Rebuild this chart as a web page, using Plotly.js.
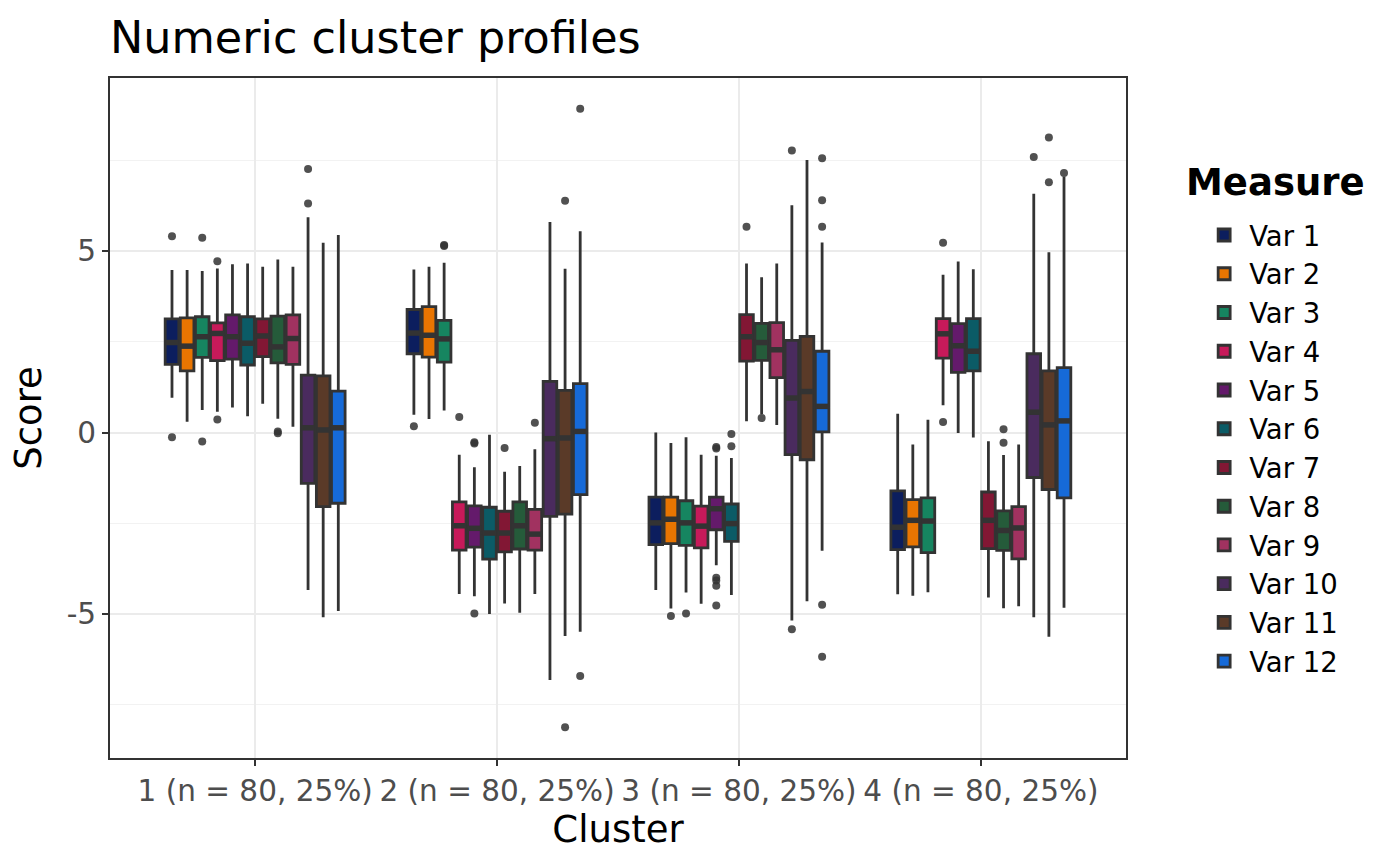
<!DOCTYPE html>
<html>
<head>
<meta charset="utf-8">
<script src="https://cdn.plot.ly/plotly-3.0.1.min.js"></script>
<style>
  html, body { margin: 0; padding: 0; background: #fff; }
  #chart { width: 1400px; height: 866px; }
</style>
</head>
<body>
<div id="chart"></div>
<script>
// clusters on x, one box per measure inside each cluster
const clusters = ['1 (n = 80, 25%)', '2 (n = 80, 25%)', '3 (n = 80, 25%)', '4 (n = 80, 25%)'];
const measures = ['Var 1', 'Var 2', 'Var 3', 'Var 4', 'Var 5', 'Var 6',
                  'Var 7', 'Var 8', 'Var 9', 'Var 10', 'Var 11', 'Var 12'];
const colors = ['#0c1e5e', '#e97501', '#168560', '#c71a5a', '#641a6b', '#0b5b66',
                '#821734', '#255b3a', '#a13260', '#4a2b5e', '#5a3a28', '#166ad8'];

// one row per measure, one value per cluster
const lower = [
  [0.96, 0.49, -4.34, -4.46],
  [0.30, 0.37, -4.85, -4.50],
  [0.62, 0.61, -4.41, -4.40],
  [0.57, -4.45, -4.72, 0.75],
  [0.69, -4.51, -3.66, -0.01],
  [0.45, -5.00, -4.48, -0.14],
  [0.79, -4.71, 0.31, -4.55],
  [0.38, -4.97, 0.50, -4.84],
  [0.16, -4.45, 0.21, -4.79],
  [-4.34, -6.82, -5.18, -5.09],
  [-5.09, -5.61, -4.65, -5.63],
  [-4.92, -5.49, -3.26, -4.83],
];
const q1 = [
  [1.88, 2.17, -3.09, -3.23],
  [1.70, 2.08, -3.06, -3.15],
  [2.07, 1.94, -3.11, -3.31],
  [1.98, -3.24, -3.18, 2.05],
  [2.02, -3.16, -2.68, 1.66],
  [1.86, -3.49, -3.00, 1.70],
  [2.09, -3.29, 1.97, -3.20],
  [1.92, -3.21, 1.99, -3.25],
  [1.88, -3.24, 1.51, -3.48],
  [-1.40, -2.31, -0.61, -1.24],
  [-2.04, -2.25, -0.75, -1.57],
  [-1.95, -1.71, 0.02, -1.80],
];
const median = [
  [2.48, 2.74, -2.49, -2.61],
  [2.38, 2.68, -2.39, -2.42],
  [2.64, 2.58, -2.49, -2.44],
  [2.73, -2.57, -2.58, 2.72],
  [2.64, -2.64, -2.10, 2.39],
  [2.46, -2.77, -2.51, 2.24],
  [2.66, -2.77, 2.64, -2.42],
  [2.36, -2.57, 2.48, -2.70],
  [2.59, -2.80, 2.28, -2.63],
  [0.13, -0.17, 0.95, 0.56],
  [0.07, -0.15, 1.13, 0.21],
  [0.13, 0.03, 0.72, 0.32],
];
const q3 = [
  [3.13, 3.39, -1.78, -1.61],
  [3.16, 3.47, -1.78, -1.85],
  [3.19, 3.09, -1.88, -1.80],
  [3.02, -1.91, -2.03, 3.14],
  [3.24, -2.02, -1.78, 3.00],
  [3.19, -2.06, -1.97, 3.14],
  [3.13, -2.17, 3.25, -1.64],
  [3.21, -1.91, 3.01, -2.16],
  [3.24, -2.12, 3.03, -2.04],
  [1.58, 1.41, 2.54, 2.17],
  [1.56, 1.16, 2.65, 1.70],
  [1.14, 1.35, 2.24, 1.79],
];
const upper = [
  [4.48, 4.49, 0.00, 0.52],
  [4.48, 4.57, -0.29, -0.33],
  [4.45, 4.68, -0.13, 0.35],
  [4.52, -0.61, -0.61, 4.35],
  [4.64, -0.96, -0.64, 4.71],
  [4.66, -0.06, -0.70, 4.50],
  [4.57, -1.08, 4.66, -0.24],
  [4.77, -0.92, 4.28, -0.62],
  [4.57, -0.46, 4.66, -0.33],
  [5.93, 5.80, 6.26, 6.58],
  [5.23, 4.51, 7.51, 4.97],
  [5.44, 5.55, 5.24, 7.05],
];
const outliers = [
  [[5.41, -0.13], [0.17], [], []],
  [[], [], [-5.06], []],
  [[5.37, -0.25], [5.14, 5.17], [-4.99], []],
  [[4.72, 0.36], [0.43], [], [5.23, 0.29]],
  [[], [-0.27, -0.30, -4.99], [-0.40, -0.44, -4.00, -4.08, -4.22, -4.77], []],
  [[], [], [-0.04, -0.38], []],
  [[], [-0.43], [5.67], []],
  [[-0.02, 0.03], [], [0.40], [0.09, -0.28]],
  [[], [0.27], [], []],
  [[7.26, 6.31], [], [7.77, -5.42], [7.59]],
  [[], [6.39, -8.12], [], [8.13, 6.90]],
  [[], [8.92, -6.71], [7.56, 6.40, 5.67, -4.75, -6.18], [7.15]],
];

const yTickVals = [-5, 0, 5];
const yTickText = ['-5', '0', '5'];

// dodge like ggplot: 0.75 of a category shared by all measures, 10% padding
const dodge = 0.75;
const slot = dodge / measures.length;
const box_w = slot * 0.9;
const ink = '#333333';

function box_x(c, m) {
    return (c + 1) + (m - (measures.length - 1) / 2) * slot;
}

let box_traces = [];
let median_traces = [];
let point_traces = [];

measures.forEach((name, m) => {
    let xs = clusters.map((_, c) => box_x(c, m));

    box_traces.push({
        type: 'box',
        name: name,
        x: xs,
        q1: q1[m],
        median: median[m],
        q3: q3[m],
        lowerfence: lower[m],
        upperfence: upper[m],
        width: box_w,
        whiskerwidth: 0,
        boxpoints: false,
        fillcolor: colors[m],
        line: {color: ink, width: 2.8},
        hoverinfo: 'skip',
    });

    // thicker median bar, like ggplot's fatten = 2
    let mx = [], my = [];
    xs.forEach((x, c) => {
        mx.push(x - box_w / 2, x + box_w / 2, null);
        my.push(median[m][c], median[m][c], null);
    });
    median_traces.push({
        type: 'scatter', mode: 'lines',
        x: mx, y: my,
        line: {color: ink, width: 5.5},
        showlegend: false, hoverinfo: 'skip',
    });

    let px = [], py = [];
    outliers[m].forEach((vals, c) => {
        vals.forEach((v) => { px.push(xs[c]); py.push(v); });
    });
    point_traces.push({
        type: 'scatter', mode: 'markers',
        x: px, y: py,
        marker: {color: ink, size: 8, opacity: 0.85},
        showlegend: false, hoverinfo: 'skip',
    });
});

const font_family = 'DejaVu Sans, sans-serif';

let layout = {
    width: 1400,
    height: 866,
    margin: {l: 110, r: 274, t: 78, b: 108},
    paper_bgcolor: '#ffffff',
    plot_bgcolor: '#ffffff',
    font: {family: font_family, color: '#000000', size: 29},
    showlegend: true,
    boxmode: 'overlay',
    title: {
        text: 'Numeric cluster profiles',
        font: {size: 44.5, color: '#000000'},
        x: 0, xref: 'paper', xanchor: 'left',
        y: 0.957, yref: 'container', yanchor: 'middle',
    },
    xaxis: {
        range: [0.4, 4.6],
        tickmode: 'array',
        tickvals: clusters.map((_, c) => c + 1),
        ticktext: clusters,
        tickfont: {size: 29.5, color: '#4d4d4d'},
        ticks: 'outside', ticklen: 6, tickwidth: 2, tickcolor: ink,
        showgrid: true, gridcolor: '#ebebeb', gridwidth: 2,
        zeroline: false,
        showline: true, mirror: true, linecolor: ink, linewidth: 2,
        title: {text: 'Cluster', font: {size: 37, color: '#000000'}, standoff: 2},
    },
    yaxis: {
        range: [-8.97, 9.77],
        tickmode: 'array',
        tickvals: yTickVals,
        ticktext: yTickText,
        tickfont: {size: 29.5, color: '#4d4d4d'},
        ticks: 'outside', ticklen: 6, tickwidth: 2, tickcolor: ink,
        showgrid: true, gridcolor: '#ebebeb', gridwidth: 2,
        minor: {tick0: 2.5, dtick: 5, showgrid: true, gridcolor: '#f2f2f2', gridwidth: 1, ticks: ''},
        zeroline: false,
        showline: true, mirror: true, linecolor: ink, linewidth: 2,
        title: {text: 'Score', font: {size: 37, color: '#000000'}, standoff: 14},
    },
    legend: {
        font: {size: 27.5, color: '#000000'},
        x: 1.072, xanchor: 'left',
        y: 0.805, yanchor: 'top',
        bgcolor: 'rgba(0,0,0,0)',
        itemwidth: 40,
    },
    annotations: [{
        text: '<b>Measure</b>',
        font: {size: 37, color: '#000000'},
        xref: 'paper', yref: 'paper',
        x: 1.057, xanchor: 'left',
        y: 0.8456, yanchor: 'middle',
        showarrow: false,
    }],
};

Plotly.newPlot('chart', [...box_traces, ...median_traces, ...point_traces], layout, {displayModeBar: false, staticPlot: true});
</script>
</body>
</html>
